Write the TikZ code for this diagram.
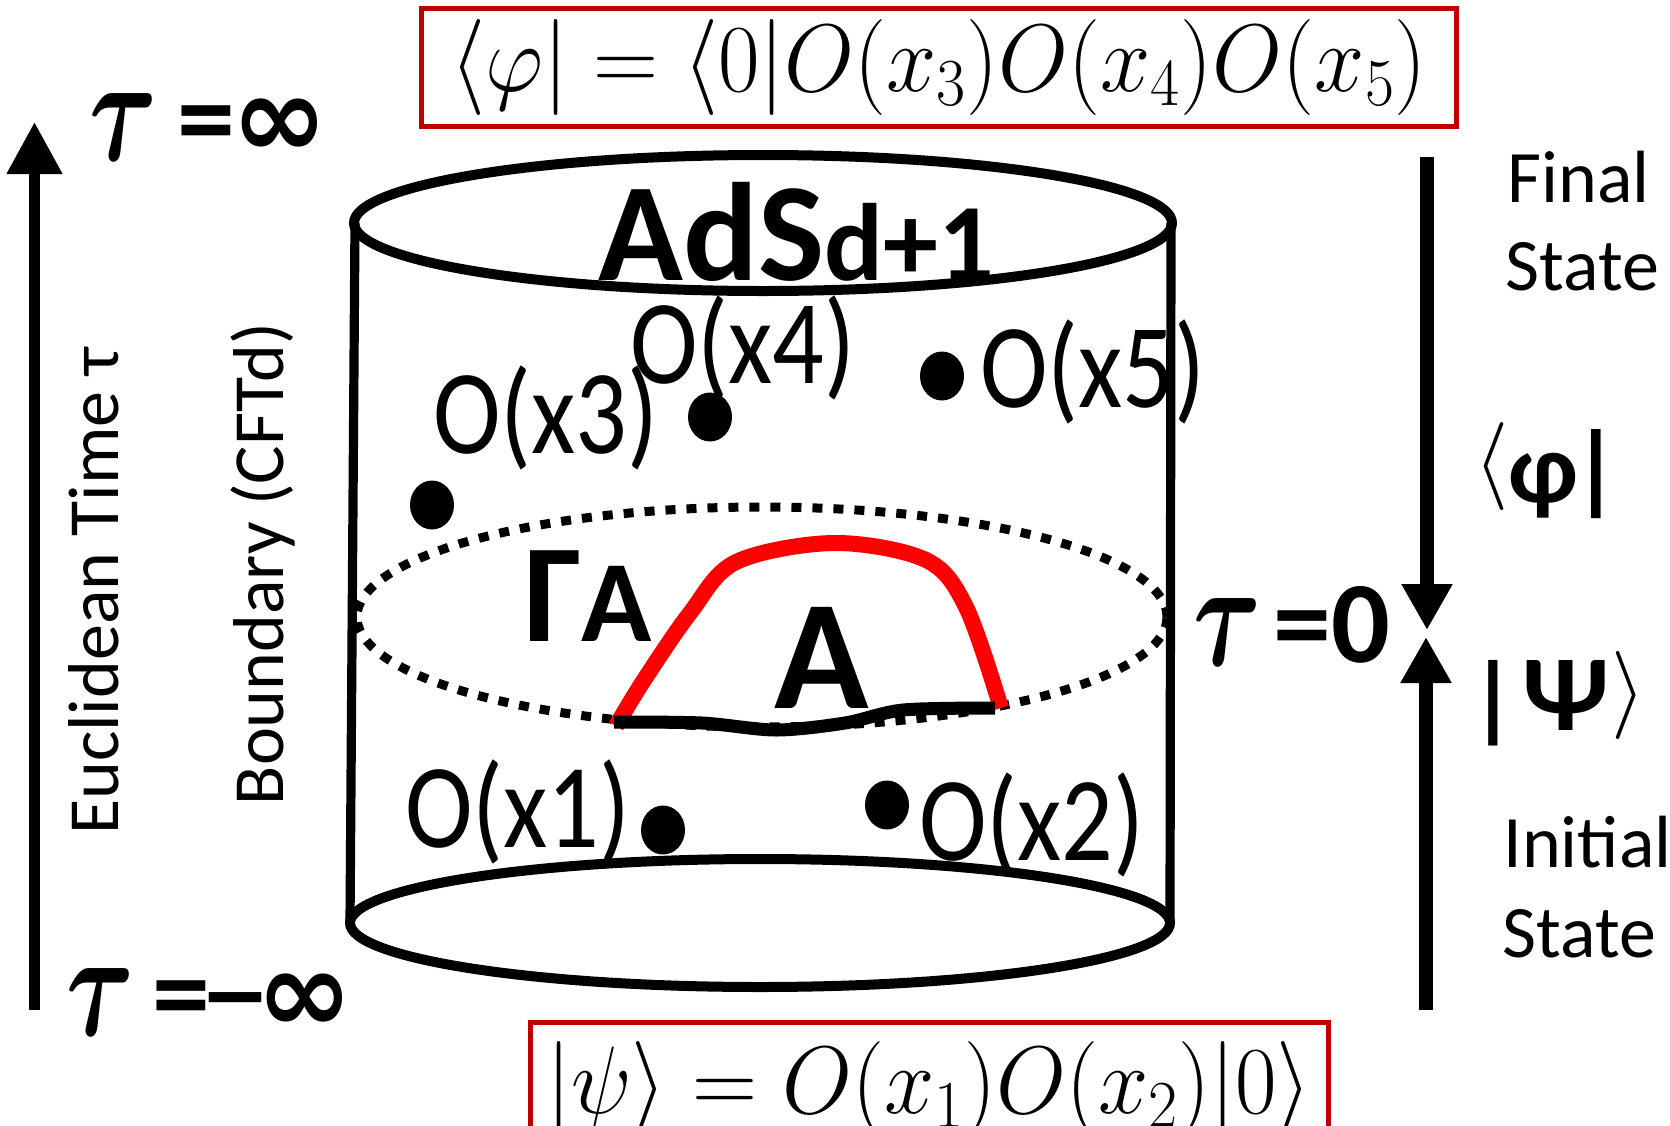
\RequirePackage{fix-cm}
\documentclass[tikz,border=0pt]{standalone}
\usepackage{fontspec}
\usepackage{bm}
\usepackage{graphicx}
\usetikzlibrary{arrows.meta}
\newfontfamily\carl{Carlito}
\newfontfamily\djv{DejaVu Sans}
\definecolor{boxred}{RGB}{192,0,0}
\definecolor{arcred}{RGB}{255,0,0}
\newcommand\fsz[1]{\fontsize{#1}{#1}\selectfont}
\newcommand\bigtau{\raisebox{-0.03em}{\scalebox{1}[1.45]{$\bm{\tau}$}}}
\newcommand\biginf{{\djv\bfseries\fsz{58}∞}}
\newcommand\boldsym[1]{{\carl\bfseries\fsz{58}#1}}
\begin{document}
\begin{tikzpicture}[x=0.5pt,y=-0.5pt,
  cylline/.style={line width=4.6pt},
  capell/.style={line width=5pt},
  dotell/.style={line width=4.5pt, dash pattern=on 5pt off 5.5pt},
  arcline/.style={line width=8pt, draw=arcred},
  chord/.style={line width=6.5pt},
  oplabel/.style={inner sep=0pt, anchor=base west, xscale=0.85, font=\carl\fsz{60}},
  sidetext/.style={inner sep=0pt, rotate=90, anchor=base, font=\carl\fsz{36}},
  statetext/.style={inner sep=0pt, anchor=base west, font=\carl\fsz{37}},
  timearrow/.style={line width=5.5pt, -{Triangle[width=26.5pt,length=26pt]}},
  statearrow/.style={line width=7pt, -{Triangle[width=24pt,length=23pt]}},
  formbox/.style={draw=boxred, line width=2.5pt, inner sep=0pt},
  plain/.style={inner sep=0pt, anchor=base west}
]
\useasboundingbox (0,0) rectangle (1670,1125);

% formula boxes
\node[formbox, minimum width=517.5pt, minimum height=59pt] (bra) at (938.5,67)
  {\fsz{48}\scalebox{0.94}[1]{$\langle\varphi| = \langle 0|O(x_3)O(x_4)O(x_5)$}};
\node[formbox, minimum width=399pt, minimum height=67pt] (ket) at (929,1089)
  {\fsz{48}\scalebox{0.94}[1]{$|\psi\rangle = O(x_1)O(x_2)|0\rangle$}};

% time axis (left)
\coordinate (tl0) at (34.5,1010);
\coordinate (tl1) at (34.5,122);
\draw[timearrow] (tl0) -- (tl1);
\node[plain, font=\fsz{52}] (tinf) at (89,157) {\bigtau\hspace{10pt}\boldsym{=}\kern-2pt\biginf};
\node[plain, font=\fsz{52}] (tminf) at (66,1032)
  {\bigtau\hspace{9pt}\boldsym{=\kern-6pt\raisebox{1pt}{\scalebox{1.28}[1]{–}}}\kern-8pt\biginf};
\node[sidetext] (euc) at (118,591) {Euclidean Time τ};
\node[sidetext] (bnd) at (283,564) {Boundary (CFTd)};

% cylinder
\draw[cylline] (355,223) -- (350,923);
\draw[cylline] (1171,223) -- (1170,923);
\draw[capell] (763,223) ellipse [x radius=204.5pt, y radius=34pt];
\draw[capell] (760,923) ellipse [x radius=205pt, y radius=32pt];
\node[plain] (ads) at (598,280) {{\carl\bfseries\fsz{70}AdS}{\carl\bfseries\fsz{55}d+1}};

% tau = 0 slice
\draw[dotell] (762,617) ellipse [x radius=202.5pt, y radius=55pt];
\draw[arcline] plot[smooth, tension=0.55] coordinates
  {(616,726) (644,680) (690,613) (736,562) (834,543) (926,560) (966,607) (1001,708)};
\draw[chord] plot[smooth] coordinates
  {(614,722) (702,723) (776,730) (845,723) (903,710) (995,708)};
\node[plain] (gam) at (524,641) {{\carl\bfseries\fsz{70}Γ}{\carl\bfseries\fsz{58}A}};
\node[plain, anchor=base] (rega) at (822,708) {\carl\bfseries\fsz{78}A};

% operator insertions
\fill (432,505) ellipse [x radius=11pt, y radius=12.25pt];
\fill (710,417) ellipse [x radius=11pt, y radius=12.25pt];
\fill (942,376) ellipse [x radius=11pt, y radius=12.25pt];
\fill (663,830) ellipse [x radius=11pt, y radius=12.25pt];
\fill (887,805) ellipse [x radius=11pt, y radius=12.25pt];
\node[oplabel] (o3) at (433,453) {O(x3)};
\node[oplabel] (o4) at (630,383) {O(x4)};
\node[oplabel] (o5) at (980,407) {O(x5)};
\node[oplabel] (o1) at (405,847) {O(x1)};
\node[oplabel] (o2) at (919,860) {O(x2)};

% right side
\node[plain, font=\fsz{52}] (tzero) at (1193,662) {\bigtau\hspace{6pt}\boldsym{=0}};
\coordinate (fs0) at (1427,157);
\coordinate (fs1) at (1427,630);
\draw[statearrow] (fs0) -- (fs1);
\coordinate (is0) at (1426,1010);
\coordinate (is1) at (1426,637);
\draw[statearrow] (is0) -- (is1);
\node[statetext] (fin1) at (1507,202) {Final};
\node[statetext] (fin2) at (1505,290) {State};
\node[statetext] (ini1) at (1503,867) {Initial};
\node[statetext] (ini2) at (1502,957) {State};
\node[plain] (phibra) at (1474,502)
  {\raisebox{7pt}{\fsz{44}$\langle$}{\carl\bfseries\fsz{50}φ\kern-3pt|}};
\node[plain] (psiket) at (1470,730)
  {{\carl\bfseries\fsz{48}|}\kern3pt{\carl\bfseries\fsz{54}Ψ}\kern1pt\raisebox{6.5pt}{\fsz{44}$\rangle$}};
\end{tikzpicture}
\end{document}
